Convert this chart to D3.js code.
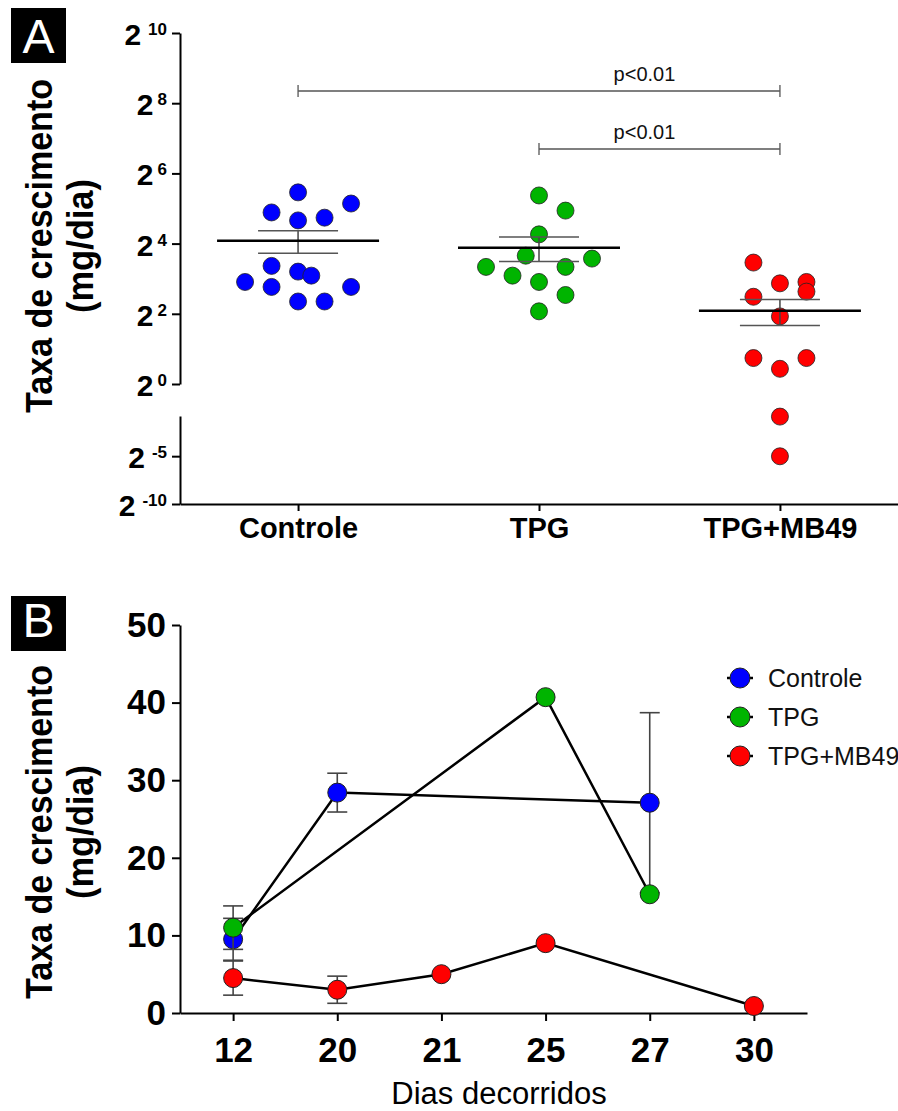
<!DOCTYPE html>
<html>
<head>
<meta charset="utf-8">
<script src="https://cdn.jsdelivr.net/npm/d3@7"></script>
<style>
body { margin: 0; background: #fff; }
svg { display: block; font-family: "Liberation Sans", Arial, sans-serif; }
</style>
</head>
<body>
<svg width="898" height="1111"></svg>
<script>
const svg = d3.select('svg');

// ---- panel A data (mg/dia, individual animals) ----
const groups = ['Controle', 'TPG', 'TPG+MB49'];
const controleValues = [44.0, 35.3, 29.6, 26.7, 25.3, 10.3, 9.2, 8.5, 7.5, 6.8, 6.8, 5.1, 5.1];
const tpgValues = [41.4, 30.7, 19.2, 12.6, 11.9, 10.1, 10.1, 8.5, 7.5, 5.8, 4.2];
const mb49Values = [11.0, 7.3, 7.5, 6.2, 5.6, 3.8, 1.67, 1.35, 1.67, 0.55, 0.031];
// column slot of each dot in the scatter (dot-plot layout)
const controleSlots = [0, 2, -1, 1, 0, -1, 0, 0.5, -2, -1, 2, 0, 1];
const tpgSlots = [0, 1, 0, -0.5, 2, -2, 1, -1, 0, 1, 0];
const mb49Slots = [-1, 0, 1, 1, -1, 0, -1, 0, 1, 0, 0];
const upperExponents = [0, 2, 4, 6, 8, 10];
const lowerExponents = [-5, -10];
const comparisons = [
    { from: 'Controle', to: 'TPG+MB49', label: 'p<0.01' },
    { from: 'TPG', to: 'TPG+MB49', label: 'p<0.01' }
];

// ---- panel B data (mean and SEM per day) ----
const days = ['12', '20', '21', '25', '27', '30'];
const seriesNames = ['Controle', 'TPG', 'TPG+MB49'];
const controleMean = [9.5, 28.4, null, null, 27.1, null];
const controleSem = [2.7, 2.5, null, null, 11.6, null];
const tpgMean = [11.0, null, null, 40.7, 15.3, null];
const tpgSem = [2.8, null, null, 0, 0, null];
const mb49Mean = [4.5, 3.0, 5.0, 9.0, null, 0.9];
const mb49Sem = [2.2, 1.75, 0, 0, null, 0];
const yTicksB = [0, 10, 20, 30, 40, 50];

const colors = ['#0000ff', '#00b400', '#ff0000'];

// ================= panel A =================
const xA = d3.scalePoint()
    .domain(groups)
    .range([180, 898])
    .padding(0.49);

// broken log2 axis: upper and lower segment
const yUp = d3.scaleLog().base(2).domain([1, 1024]).range([384, 33]);
const yLow = d3.scaleLog().base(2).domain([2 ** -10, 2 ** -0.8]).range([504, 416]);
const yA = v => v >= 1 ? yUp(v) : yLow(v);

const gA = svg.append('g');

// y axis segments
gA.append('g')
    .attr('transform', 'translate(180,0)')
    .call(d3.axisLeft(yUp).tickValues(upperExponents.map(e => 2 ** e)).tickFormat('').tickSize(8).tickSizeOuter(0));
gA.append('g')
    .attr('transform', 'translate(180,0)')
    .call(d3.axisLeft(yLow).tickValues(lowerExponents.map(e => 2 ** e)).tickFormat('').tickSize(8).tickSizeOuter(0));

// power-of-two tick labels
const expLabels = upperExponents.map(e => ({ e, y: yUp(2 ** e) }))
    .concat(lowerExponents.map(e => ({ e, y: yLow(2 ** e) })));
expLabels.forEach(d => {
    const t = gA.append('text')
        .attr('x', 167)
        .attr('y', d.y + 12)
        .attr('text-anchor', 'end')
        .attr('font-weight', 'bold');
    t.append('tspan').attr('font-size', 30).text('2');
    t.append('tspan')
        .attr('font-size', 17)
        .attr('dx', String(d.e).length > 1 ? 7 : 4)
        .attr('dy', -10)
        .text(d.e);
});

// x axis
gA.append('g')
    .attr('transform', 'translate(0,504)')
    .call(d3.axisBottom(xA).tickSize(7).tickSizeOuter(0).tickPadding(6))
    .call(g => g.selectAll('text').attr('font-size', 29).attr('font-weight', 'bold').attr('fill', '#000'));

gA.selectAll('.domain, .tick line').attr('stroke', '#000').attr('stroke-width', 2);

// dots
const groupData = [
    { name: 'Controle', values: controleValues, slots: controleSlots },
    { name: 'TPG', values: tpgValues, slots: tpgSlots },
    { name: 'TPG+MB49', values: mb49Values, slots: mb49Slots }
];
const slotWidth = 26.5;

groupData.forEach((grp, i) => {
    gA.append('g')
        .selectAll('circle')
        .data(grp.values)
        .enter()
        .append('circle')
        .attr('cx', (d, j) => xA(grp.name) + grp.slots[j] * slotWidth)
        .attr('cy', d => yA(d))
        .attr('r', 8.5)
        .attr('fill', colors[i])
        .attr('stroke', '#222')
        .attr('stroke-width', 0.8);
});

// mean and SEM lines on top
groupData.forEach(grp => {
    const cx = xA(grp.name);
    const mean = d3.mean(grp.values);
    const sem = d3.deviation(grp.values) / Math.sqrt(grp.values.length);
    const g = gA.append('g');
    g.append('line')
        .attr('x1', cx).attr('x2', cx)
        .attr('y1', yA(mean + sem)).attr('y2', yA(mean - sem))
        .attr('stroke', '#444').attr('stroke-width', 1.5);
    [mean + sem, mean - sem].forEach(v => {
        g.append('line')
            .attr('x1', cx - 40).attr('x2', cx + 40)
            .attr('y1', yA(v)).attr('y2', yA(v))
            .attr('stroke', '#555').attr('stroke-width', 1.5);
    });
    g.append('line')
        .attr('x1', cx - 81).attr('x2', cx + 81)
        .attr('y1', yA(mean)).attr('y2', yA(mean))
        .attr('stroke', '#000').attr('stroke-width', 2.5);
});

// significance brackets
const bracketY = [91, 149];
const pLabelX = (xA('TPG') + xA('TPG+MB49')) / 2 - 15;
comparisons.forEach((c, i) => {
    const g = gA.append('g').attr('stroke', '#555').attr('stroke-width', 1.3);
    const y = bracketY[i];
    g.append('line').attr('x1', xA(c.from)).attr('x2', xA(c.to)).attr('y1', y).attr('y2', y);
    g.append('line').attr('x1', xA(c.from)).attr('x2', xA(c.from)).attr('y1', y - 6).attr('y2', y + 6);
    g.append('line').attr('x1', xA(c.to)).attr('x2', xA(c.to)).attr('y1', y - 6).attr('y2', y + 6);
    gA.append('text')
        .attr('x', pLabelX)
        .attr('y', y - 10)
        .attr('text-anchor', 'middle')
        .attr('font-size', 20)
        .attr('fill', '#111')
        .text(c.label);
});

// ================= panel B =================
const xB = d3.scalePoint()
    .domain(days)
    .range([180, 807])
    .padding(0.51);

const yB = d3.scaleLinear()
    .domain([0, 50])
    .range([1013, 625]);

const gB = svg.append('g');

gB.append('g')
    .attr('transform', 'translate(180,0)')
    .call(d3.axisLeft(yB).tickValues(yTicksB).tickSize(8).tickSizeOuter(0).tickPadding(6))
    .call(g => g.selectAll('text').attr('font-size', 35).attr('font-weight', 'bold').attr('fill', '#000'));

gB.append('g')
    .attr('transform', 'translate(0,1013)')
    .call(d3.axisBottom(xB).tickSize(8).tickSizeOuter(0).tickPadding(16))
    .call(g => g.selectAll('text').attr('font-size', 35).attr('font-weight', 'bold').attr('fill', '#000'));

gB.selectAll('.domain, .tick line').attr('stroke', '#000').attr('stroke-width', 2);

const series = [
    { name: seriesNames[0], mean: controleMean, sem: controleSem },
    { name: seriesNames[1], mean: tpgMean, sem: tpgSem },
    { name: seriesNames[2], mean: mb49Mean, sem: mb49Sem }
].map(s => ({
    name: s.name,
    points: days.map((day, i) => ({ day, v: s.mean[i], e: s.sem[i] })).filter(p => p.v != null)
}));

const lineB = d3.line()
    .x(d => xB(d.day))
    .y(d => yB(d.v));

series.forEach((s, i) => {
    const g = gB.append('g');
    g.append('path')
        .attr('d', lineB(s.points))
        .attr('fill', 'none')
        .attr('stroke', '#000')
        .attr('stroke-width', 2.5);

    // error bars
    s.points.filter(p => p.e > 0).forEach(p => {
        const cx = xB(p.day);
        const eg = g.append('g').attr('stroke', '#444').attr('stroke-width', 1.6);
        eg.append('line').attr('x1', cx).attr('x2', cx).attr('y1', yB(p.v + p.e)).attr('y2', yB(p.v - p.e));
        [p.v + p.e, p.v - p.e].forEach(v => {
            eg.append('line').attr('x1', cx - 10).attr('x2', cx + 10).attr('y1', yB(v)).attr('y2', yB(v));
        });
    });

    g.selectAll('circle')
        .data(s.points)
        .enter()
        .append('circle')
        .attr('cx', d => xB(d.day))
        .attr('cy', d => yB(d.v))
        .attr('r', 9.5)
        .attr('fill', colors[i])
        .attr('stroke', '#222')
        .attr('stroke-width', 1);
});

// legend
const legend = gB.append('g').attr('transform', 'translate(740,678)');
seriesNames.forEach((name, i) => {
    const row = legend.append('g').attr('transform', `translate(0,${i * 39})`);
    row.append('line').attr('x1', -13).attr('x2', 13).attr('stroke', '#000').attr('stroke-width', 2.5);
    row.append('circle').attr('r', 10).attr('fill', colors[i]).attr('stroke', '#222').attr('stroke-width', 1);
    row.append('text')
        .attr('x', 28)
        .attr('dy', '0.35em')
        .attr('font-size', 25)
        .attr('fill', '#111')
        .text(name);
});

// x axis title
gB.append('text')
    .attr('x', 499)
    .attr('y', 1104)
    .attr('text-anchor', 'middle')
    .attr('font-size', 31)
    .text('Dias decorridos');

// ================= shared labels =================
function append_y_title(cy) {
    svg.append('text')
        .attr('transform', `translate(52,${cy}) rotate(-90)`)
        .attr('text-anchor', 'middle')
        .attr('font-size', 36)
        .attr('font-weight', 'bold')
        .attr('textLength', 334)
        .attr('lengthAdjust', 'spacingAndGlyphs')
        .text('Taxa de crescimento');
    svg.append('text')
        .attr('transform', `translate(93,${cy}) rotate(-90)`)
        .attr('text-anchor', 'middle')
        .attr('font-size', 36)
        .attr('font-weight', 'bold')
        .attr('textLength', 134)
        .attr('lengthAdjust', 'spacingAndGlyphs')
        .text('(mg/dia)');
}
append_y_title(246);
append_y_title(832);

function append_panel_tag(letter, top, baseline) {
    svg.append('rect')
        .attr('x', 11).attr('y', top)
        .attr('width', 55).attr('height', 55)
        .attr('fill', '#000');
    svg.append('text')
        .attr('x', 38.5).attr('y', baseline)
        .attr('text-anchor', 'middle')
        .attr('font-size', 48)
        .attr('fill', '#fff')
        .text(letter);
}
append_panel_tag('A', 8, 53);
append_panel_tag('B', 596, 637);
</script>
</body>
</html>
